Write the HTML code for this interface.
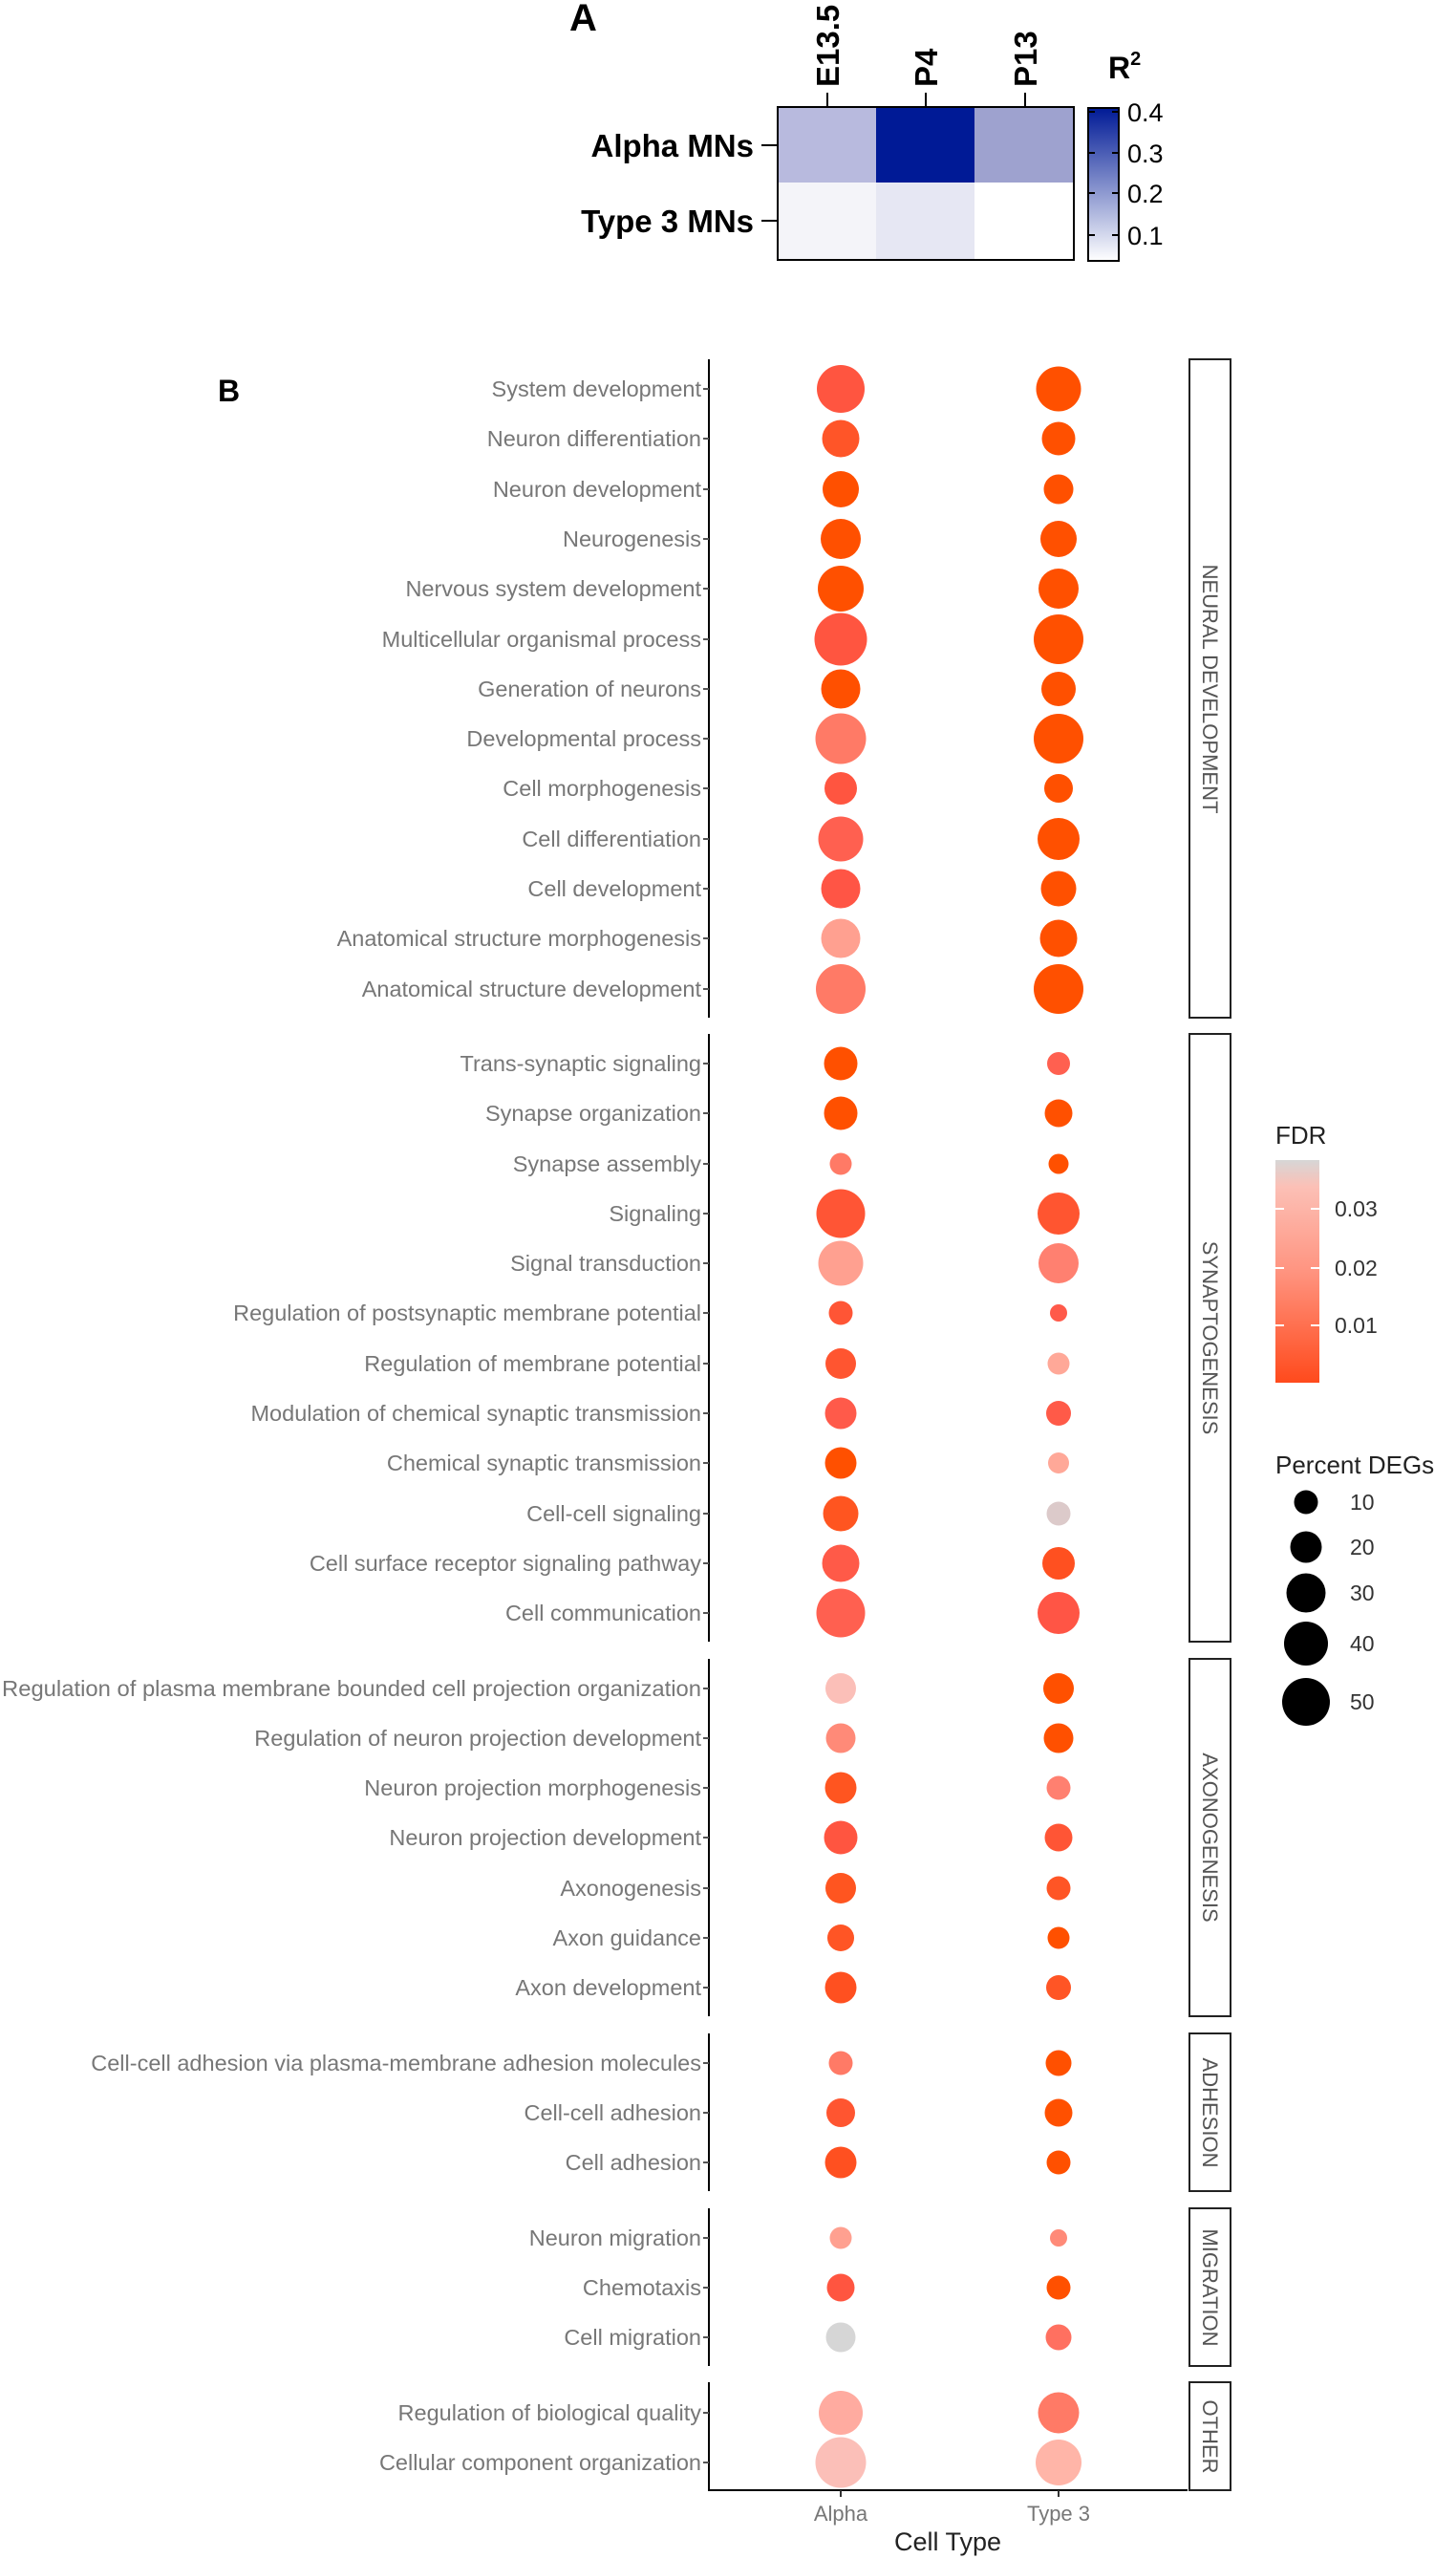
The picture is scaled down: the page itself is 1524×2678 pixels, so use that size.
<!DOCTYPE html>
<html><head><meta charset="utf-8"><style>body{margin:0;background:#fff}svg{display:block}</style></head><body>
<svg width="1524" height="2678" viewBox="0 0 1524 2678" xmlns="http://www.w3.org/2000/svg" font-family="Liberation Sans, Arial, sans-serif">
<defs>
<linearGradient id="gb" x1="0" y1="0" x2="0" y2="1"><stop offset="0" stop-color="#001a96"/><stop offset="1" stop-color="#ffffff"/></linearGradient>
<linearGradient id="gr" x1="0" y1="0" x2="0" y2="1"><stop offset="0" stop-color="#d6d6d6"/><stop offset="0.12" stop-color="#fcc0b6"/><stop offset="0.5" stop-color="#ff9480"/><stop offset="1" stop-color="#ff4a1c"/></linearGradient>
</defs>
<!-- Panel A -->
<text x="596" y="32" font-size="40" font-weight="bold">A</text>
<rect x="814" y="112" width="103" height="79" fill="#b8bade"/>
<rect x="917" y="112" width="103" height="79" fill="#001a96"/>
<rect x="1020" y="112" width="104" height="79" fill="#9ea2cf"/>
<rect x="814" y="191" width="103" height="81" fill="#f4f4f9"/>
<rect x="917" y="191" width="103" height="81" fill="#e6e7f3"/>
<rect x="1020" y="191" width="104" height="81" fill="#ffffff"/>
<rect x="814" y="112" width="310" height="160" fill="none" stroke="#000" stroke-width="2"/>
<g stroke="#000" stroke-width="2"><line x1="866" y1="97" x2="866" y2="112"/><line x1="969" y1="97" x2="969" y2="112"/><line x1="1073" y1="97" x2="1073" y2="112"/><line x1="797" y1="152" x2="814" y2="152"/><line x1="797" y1="231" x2="814" y2="231"/></g>
<g font-size="33" font-weight="bold">
<text transform="translate(878,91) rotate(-90)">E13.5</text>
<text transform="translate(981,91) rotate(-90)">P4</text>
<text transform="translate(1085,91) rotate(-90)">P13</text>
<text x="789" y="164" text-anchor="end">Alpha MNs</text>
<text x="789" y="243" text-anchor="end">Type 3 MNs</text>
</g>
<rect x="1139" y="113" width="32" height="160" fill="url(#gb)" stroke="#000" stroke-width="2"/>
<g stroke="#000" stroke-width="2"><line x1="1140" y1="117" x2="1146" y2="117"/><line x1="1164" y1="117" x2="1170" y2="117"/><line x1="1140" y1="160" x2="1146" y2="160"/><line x1="1164" y1="160" x2="1170" y2="160"/><line x1="1140" y1="202" x2="1146" y2="202"/><line x1="1164" y1="202" x2="1170" y2="202"/><line x1="1140" y1="246" x2="1146" y2="246"/><line x1="1164" y1="246" x2="1170" y2="246"/></g>
<text x="1160" y="82" font-size="32" font-weight="bold">R<tspan font-size="20" dy="-14">2</tspan></text>
<g font-size="27"><text x="1180" y="127">0.4</text><text x="1180" y="170">0.3</text><text x="1180" y="212">0.2</text><text x="1180" y="256">0.1</text></g>
<!-- Panel B -->
<text x="228" y="420" font-size="32" font-weight="bold">B</text>
<g stroke="#000" stroke-width="2">
<line x1="742" y1="376" x2="742" y2="1065"/><line x1="742" y1="1082" x2="742" y2="1718"/><line x1="742" y1="1736" x2="742" y2="2110"/><line x1="742" y1="2128" x2="742" y2="2293"/><line x1="742" y1="2311" x2="742" y2="2476"/><line x1="742" y1="2493" x2="742" y2="2606"/>
<line x1="741" y1="2606" x2="1243" y2="2606"/>
</g>
<g stroke="#333" stroke-width="2"><line x1="880" y1="2606" x2="880" y2="2613"/><line x1="1108" y1="2606" x2="1108" y2="2613"/></g>
<g fill="none" stroke="#222" stroke-width="2">
<rect x="1245" y="376" width="43" height="689"/><rect x="1245" y="1082" width="43" height="636"/><rect x="1245" y="1736" width="43" height="374"/><rect x="1245" y="2128" width="43" height="165"/><rect x="1245" y="2311" width="43" height="165"/><rect x="1245" y="2493" width="43" height="113"/>
</g>
<g font-size="22" fill="#555" text-anchor="middle">
<text transform="translate(1259,721) rotate(90)">NEURAL DEVELOPMENT</text>
<text transform="translate(1259,1400) rotate(90)">SYNAPTOGENESIS</text>
<text transform="translate(1259,1923) rotate(90)">AXONOGENESIS</text>
<text transform="translate(1259,2211) rotate(90)">ADHESION</text>
<text transform="translate(1259,2394) rotate(90)">MIGRATION</text>
<text transform="translate(1259,2550) rotate(90)">OTHER</text>
</g>
<g font-size="23.5" fill="#777" text-anchor="end">
<text x="734" y="415">System development</text>
<text x="734" y="467">Neuron differentiation</text>
<text x="734" y="520">Neuron development</text>
<text x="734" y="572">Neurogenesis</text>
<text x="734" y="624">Nervous system development</text>
<text x="734" y="677">Multicellular organismal process</text>
<text x="734" y="729">Generation of neurons</text>
<text x="734" y="781">Developmental process</text>
<text x="734" y="833">Cell morphogenesis</text>
<text x="734" y="886">Cell differentiation</text>
<text x="734" y="938">Cell development</text>
<text x="734" y="990">Anatomical structure morphogenesis</text>
<text x="734" y="1043">Anatomical structure development</text>
<text x="734" y="1121">Trans-synaptic signaling</text>
<text x="734" y="1173">Synapse organization</text>
<text x="734" y="1226">Synapse assembly</text>
<text x="734" y="1278">Signaling</text>
<text x="734" y="1330">Signal transduction</text>
<text x="734" y="1382">Regulation of postsynaptic membrane potential</text>
<text x="734" y="1435">Regulation of membrane potential</text>
<text x="734" y="1487">Modulation of chemical synaptic transmission</text>
<text x="734" y="1539">Chemical synaptic transmission</text>
<text x="734" y="1592">Cell-cell signaling</text>
<text x="734" y="1644">Cell surface receptor signaling pathway</text>
<text x="734" y="1696">Cell communication</text>
<text x="734" y="1775" textLength="732" lengthAdjust="spacingAndGlyphs">Regulation of plasma membrane bounded cell projection organization</text>
<text x="734" y="1827">Regulation of neuron projection development</text>
<text x="734" y="1879">Neuron projection morphogenesis</text>
<text x="734" y="1931">Neuron projection development</text>
<text x="734" y="1984">Axonogenesis</text>
<text x="734" y="2036">Axon guidance</text>
<text x="734" y="2088">Axon development</text>
<text x="734" y="2167">Cell-cell adhesion via plasma-membrane adhesion molecules</text>
<text x="734" y="2219">Cell-cell adhesion</text>
<text x="734" y="2271">Cell adhesion</text>
<text x="734" y="2350">Neuron migration</text>
<text x="734" y="2402">Chemotaxis</text>
<text x="734" y="2454">Cell migration</text>
<text x="734" y="2533">Regulation of biological quality</text>
<text x="734" y="2585">Cellular component organization</text>
</g>
<g stroke="#555" stroke-width="2">
<path d="M736 407h6M736 459h6M736 512h6M736 564h6M736 616h6M736 669h6M736 721h6M736 773h6M736 825h6M736 878h6M736 930h6M736 982h6M736 1035h6M736 1113h6M736 1165h6M736 1218h6M736 1270h6M736 1322h6M736 1374h6M736 1427h6M736 1479h6M736 1531h6M736 1584h6M736 1636h6M736 1688h6M736 1767h6M736 1819h6M736 1871h6M736 1923h6M736 1976h6M736 2028h6M736 2080h6M736 2159h6M736 2211h6M736 2263h6M736 2342h6M736 2394h6M736 2446h6M736 2525h6M736 2577h6"/>
</g>
<!-- Alpha dots -->
<g>
<circle cx="880" cy="407" r="25" fill="#ff5540"/>
<circle cx="880" cy="459" r="19.5" fill="#ff5528"/>
<circle cx="880" cy="512" r="19" fill="#ff5000"/>
<circle cx="880" cy="564" r="21" fill="#ff5000"/>
<circle cx="880" cy="616" r="24" fill="#ff5000"/>
<circle cx="880" cy="669" r="27.5" fill="#ff5540"/>
<circle cx="880" cy="721" r="20.5" fill="#ff5000"/>
<circle cx="880" cy="773" r="26.5" fill="#ff7a66"/>
<circle cx="880" cy="825" r="17" fill="#ff5540"/>
<circle cx="880" cy="878" r="23.5" fill="#ff6050"/>
<circle cx="880" cy="930" r="20.5" fill="#ff5545"/>
<circle cx="880" cy="982" r="20.5" fill="#ffa090"/>
<circle cx="880" cy="1035" r="26" fill="#ff7a66"/>
<circle cx="880" cy="1113" r="17.5" fill="#ff5000"/>
<circle cx="880" cy="1165" r="17.5" fill="#ff5000"/>
<circle cx="880" cy="1218" r="11.5" fill="#ff7a66"/>
<circle cx="880" cy="1270" r="25.5" fill="#ff5535"/>
<circle cx="880" cy="1322" r="23.5" fill="#ffa090"/>
<circle cx="880" cy="1374" r="12.5" fill="#ff5535"/>
<circle cx="880" cy="1427" r="16" fill="#ff5530"/>
<circle cx="880" cy="1479" r="16.5" fill="#ff5a4a"/>
<circle cx="880" cy="1531" r="16.5" fill="#ff5000"/>
<circle cx="880" cy="1584" r="18.5" fill="#ff5520"/>
<circle cx="880" cy="1636" r="19.5" fill="#ff5a48"/>
<circle cx="880" cy="1688" r="25.5" fill="#ff6050"/>
<circle cx="880" cy="1767" r="16" fill="#fbbfb8"/>
<circle cx="880" cy="1819" r="15.5" fill="#ff8a78"/>
<circle cx="880" cy="1871" r="16.5" fill="#ff5520"/>
<circle cx="880" cy="1923" r="17.5" fill="#ff5540"/>
<circle cx="880" cy="1976" r="16" fill="#ff5520"/>
<circle cx="880" cy="2028" r="14" fill="#ff5525"/>
<circle cx="880" cy="2080" r="16.5" fill="#ff5020"/>
<circle cx="880" cy="2159" r="12.5" fill="#ff7a66"/>
<circle cx="880" cy="2211" r="15" fill="#ff5530"/>
<circle cx="880" cy="2263" r="16.5" fill="#ff5020"/>
<circle cx="880" cy="2342" r="11.5" fill="#ffa090"/>
<circle cx="880" cy="2394" r="14.5" fill="#ff5540"/>
<circle cx="880" cy="2446" r="15.5" fill="#d6d6d6"/>
<circle cx="880" cy="2525" r="23" fill="#ffaba0"/>
<circle cx="880" cy="2577" r="26.5" fill="#fbbfb8"/>
</g>
<!-- Type 3 dots -->
<g>
<circle cx="1108" cy="407" r="23.5" fill="#ff5000"/>
<circle cx="1108" cy="459" r="17.5" fill="#ff5000"/>
<circle cx="1108" cy="512" r="15.5" fill="#ff5000"/>
<circle cx="1108" cy="564" r="19" fill="#ff5000"/>
<circle cx="1108" cy="616" r="21" fill="#ff5000"/>
<circle cx="1108" cy="669" r="26" fill="#ff5000"/>
<circle cx="1108" cy="721" r="18" fill="#ff5000"/>
<circle cx="1108" cy="773" r="26" fill="#ff5000"/>
<circle cx="1108" cy="825" r="15" fill="#ff5000"/>
<circle cx="1108" cy="878" r="22" fill="#ff5000"/>
<circle cx="1108" cy="930" r="18.5" fill="#ff5000"/>
<circle cx="1108" cy="982" r="19.5" fill="#ff5000"/>
<circle cx="1108" cy="1035" r="26" fill="#ff5000"/>
<circle cx="1108" cy="1113" r="12" fill="#ff6050"/>
<circle cx="1108" cy="1165" r="14.5" fill="#ff5000"/>
<circle cx="1108" cy="1218" r="10.5" fill="#ff5000"/>
<circle cx="1108" cy="1270" r="22" fill="#ff5530"/>
<circle cx="1108" cy="1322" r="21" fill="#ff8070"/>
<circle cx="1108" cy="1374" r="9" fill="#ff5a4a"/>
<circle cx="1108" cy="1427" r="11.5" fill="#ffa898"/>
<circle cx="1108" cy="1479" r="13" fill="#ff5a48"/>
<circle cx="1108" cy="1531" r="11" fill="#ffa898"/>
<circle cx="1108" cy="1584" r="12.5" fill="#dccaca"/>
<circle cx="1108" cy="1636" r="17" fill="#ff5020"/>
<circle cx="1108" cy="1688" r="22" fill="#ff5545"/>
<circle cx="1108" cy="1767" r="16" fill="#ff5000"/>
<circle cx="1108" cy="1819" r="15.5" fill="#ff5000"/>
<circle cx="1108" cy="1871" r="12.5" fill="#ff8070"/>
<circle cx="1108" cy="1923" r="14.5" fill="#ff5535"/>
<circle cx="1108" cy="1976" r="12.5" fill="#ff5525"/>
<circle cx="1108" cy="2028" r="11.5" fill="#ff5000"/>
<circle cx="1108" cy="2080" r="13" fill="#ff5525"/>
<circle cx="1108" cy="2159" r="13.5" fill="#ff5000"/>
<circle cx="1108" cy="2211" r="14.5" fill="#ff5000"/>
<circle cx="1108" cy="2263" r="12.5" fill="#ff5000"/>
<circle cx="1108" cy="2342" r="9" fill="#ff8a78"/>
<circle cx="1108" cy="2394" r="12.5" fill="#ff5000"/>
<circle cx="1108" cy="2446" r="13.5" fill="#ff7060"/>
<circle cx="1108" cy="2525" r="21.5" fill="#ff7a66"/>
<circle cx="1108" cy="2577" r="24" fill="#ffb5a8"/>
</g>
<g font-size="22" fill="#777" text-anchor="middle"><text x="880" y="2638">Alpha</text><text x="1108" y="2638">Type 3</text></g>
<text x="992" y="2669" font-size="27" fill="#222" text-anchor="middle">Cell Type</text>
<!-- Legend -->
<text x="1335" y="1197" font-size="26" fill="#222">FDR</text>
<rect x="1335" y="1214" width="46" height="233" fill="url(#gr)"/>
<g stroke="#fff" stroke-width="2"><path d="M1335 1265h9M1372 1265h9M1335 1327h9M1372 1327h9M1335 1387h9M1372 1387h9"/></g>
<g font-size="23" fill="#333"><text x="1397" y="1273">0.03</text><text x="1397" y="1335">0.02</text><text x="1397" y="1395">0.01</text></g>
<text x="1335" y="1542" font-size="26" fill="#222">Percent DEGs</text>
<g fill="#000"><circle cx="1367" cy="1572" r="12.5"/><circle cx="1367" cy="1619" r="16.5"/><circle cx="1367" cy="1667" r="20.5"/><circle cx="1367" cy="1720" r="23"/><circle cx="1367" cy="1781" r="25"/></g>
<g font-size="23" fill="#333"><text x="1413" y="1580">10</text><text x="1413" y="1627">20</text><text x="1413" y="1675">30</text><text x="1413" y="1728">40</text><text x="1413" y="1789">50</text></g>
</svg>
</body></html>
